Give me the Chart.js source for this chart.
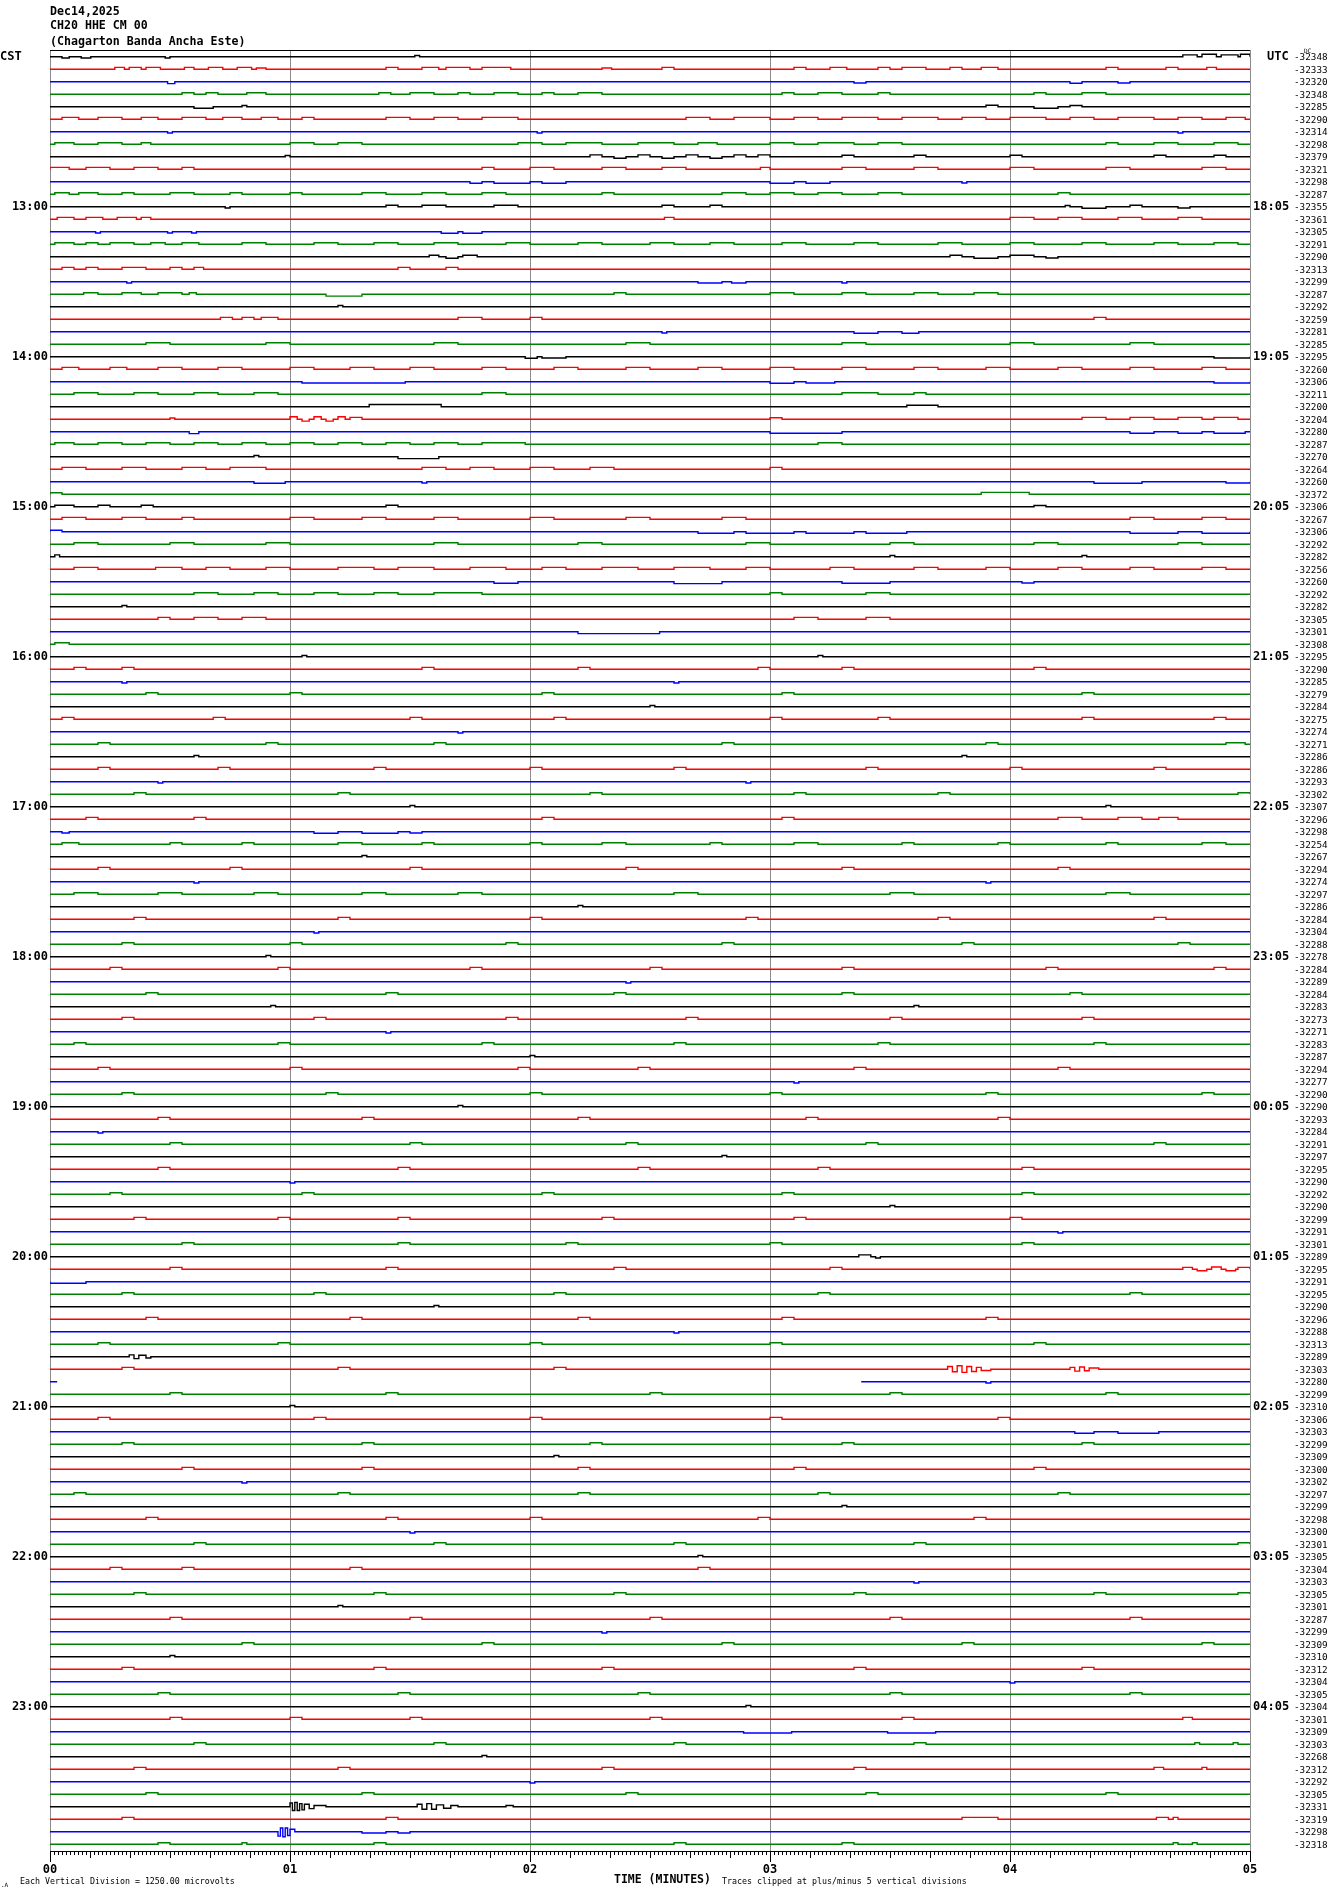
<!DOCTYPE html>
<html>
<head>
<meta charset="utf-8">
<title>CH20 HHE CM 00 helicorder</title>
<script src="https://cdn.jsdelivr.net/npm/chart.js@4.4.1/dist/chart.umd.min.js"></script>
<style>
  html, body { margin: 0; padding: 0; background: #fff; }
  canvas { display: block; }
</style>
</head>
<body>
<canvas id="heli" width="1330" height="1894" style="width:1330px;height:1894px"></canvas>
<script>
// header text
const stationDate = 'Dec14,2025';
const stationCode = 'CH20 HHE CM 00';
const stationName = '(Chagarton Banda Ancha Este)';

// hour marks, one every 12 traces (5 min per trace)
const cstLabels = ['13:00','14:00','15:00','16:00','17:00','18:00','19:00','20:00','21:00','22:00','23:00'];
const utcLabels = ['18:05','19:05','20:05','21:05','22:05','23:05','00:05','01:05','02:05','03:05','04:05'];
const minuteLabels = ['00','01','02','03','04','05'];

// DC offset printed at the end of every trace
const dcOffsets = [
  -32348,-32333,-32320,-32348,-32285,-32290,-32314,-32298,-32379,-32321,-32298,-32287,
  -32355,-32361,-32305,-32291,-32290,-32313,-32299,-32287,-32292,-32259,-32281,-32285,
  -32295,-32260,-32306,-32211,-32200,-32204,-32280,-32287,-32270,-32264,-32260,-32372,
  -32306,-32267,-32306,-32292,-32282,-32256,-32260,-32292,-32282,-32305,-32301,-32308,
  -32295,-32290,-32285,-32279,-32284,-32275,-32274,-32271,-32286,-32286,-32293,-32302,
  -32307,-32296,-32298,-32254,-32267,-32294,-32274,-32297,-32286,-32284,-32304,-32288,
  -32278,-32284,-32289,-32284,-32283,-32273,-32271,-32283,-32287,-32294,-32277,-32290,
  -32290,-32293,-32284,-32291,-32297,-32295,-32290,-32292,-32290,-32299,-32291,-32301,
  -32289,-32295,-32291,-32295,-32290,-32296,-32288,-32313,-32289,-32303,-32280,-32299,
  -32310,-32306,-32303,-32299,-32309,-32300,-32302,-32297,-32299,-32298,-32300,-32301,
  -32305,-32304,-32303,-32305,-32301,-32287,-32299,-32309,-32310,-32312,-32304,-32305,
  -32304,-32301,-32309,-32303,-32268,-32312,-32292,-32305,-32331,-32319,-32298,-32318
];

const traceColors = ['#000000', '#ff0000', '#0000ff', '#008000'];

// per trace: [start minute, end minute, amplitude in vertical divisions]
const traceEvents = [
  [[0.05,0.08,-0.1],[0.13,0.17,-0.1],[0.48,0.5,-0.1],[1.52,1.54,0.1],[4.72,4.78,0.15],[4.8,4.86,0.2],[4.88,4.95,0.15],[4.96,5.0,0.2]],
  [[0.27,0.31,.15],[0.33,0.38,.15],[0.4,0.46,.15],[0.56,0.6,.15],[0.66,0.72,.15],[0.78,0.84,.15],[0.86,0.9,.1],[1.4,1.45,.15],[1.55,1.62,.15],[1.65,1.75,.15],[1.8,1.92,.15],[2.3,2.34,.1],[2.55,2.6,.15],[3.1,3.15,.15],[3.25,3.32,.15],[3.45,3.5,.15],[3.55,3.65,.15],[3.75,3.8,.15],[3.88,3.95,.15],[4.4,4.45,.15],[4.65,4.7,.15],[4.82,4.86,.15]],
  [[0.49,0.52,-0.15],[3.35,3.4,-0.1],[4.25,4.3,-0.12],[4.45,4.5,-0.1]],
  [[0.55,0.6,.12],[0.65,0.7,.12],[0.82,0.9,.12],[1.37,1.42,.12],[1.5,1.6,.12],[1.7,1.75,.12],[1.85,1.95,.12],[2.05,2.1,.12],[2.2,2.3,.12],[3.05,3.1,.12],[3.2,3.3,.12],[3.45,3.5,.12],[4.1,4.15,.12],[4.3,4.4,.12]],
  [[0.6,0.68,-0.12],[0.8,0.82,.1],[3.9,3.95,.12],[4.1,4.2,-0.12],[4.25,4.3,.1]],
  [[0.05,0.12,.15],[0.2,0.3,.15],[0.38,0.45,.15],[0.55,0.65,.15],[0.72,0.8,.15],[0.88,0.95,.15],[1.05,1.1,.15],[1.4,1.5,.15],[1.6,1.7,.15],[1.8,1.95,.15],[2.65,2.75,.15],[2.85,3.0,.15],[3.1,3.2,.15],[3.3,3.45,.15],[3.55,3.7,.15],[3.8,3.9,.15],[4.0,4.15,.15],[4.25,4.35,.15],[4.45,4.6,.15],[4.7,4.8,.15],[4.9,4.98,.15]],
  [[0.49,0.51,-0.1],[2.03,2.05,-0.1],[4.7,4.72,-0.1]],
  [[0.02,0.1,.12],[0.2,0.3,.12],[0.38,0.42,.12],[1.0,1.1,.12],[1.2,1.3,.12],[1.95,2.05,.12],[2.15,2.3,.12],[2.45,2.6,.12],[2.7,2.78,.12],[3.0,3.1,.12],[3.2,3.35,.12],[3.45,3.55,.12],[4.4,4.45,.12],[4.6,4.7,.12],[4.85,4.95,.12]],
  [[0.98,1.0,.1],[2.25,2.3,.15],[2.35,2.4,-0.12],[2.45,2.5,.15],[2.55,2.6,-0.12],[2.65,2.7,.15],[2.75,2.8,-0.12],[2.85,2.9,.15],[2.95,3.0,.15],[3.3,3.35,.12],[3.6,3.65,.12],[4.0,4.05,.12],[4.6,4.65,.12],[4.85,4.9,.12]],
  [[0.0,0.08,.15],[0.15,0.25,.15],[0.35,0.45,.15],[0.55,0.6,.15],[1.8,1.85,.15],[2.0,2.1,.15],[2.3,2.4,.15],[2.55,2.65,.15],[2.96,3.0,.15],[3.3,3.4,.15],[3.6,3.7,.15],[4.0,4.1,.15],[4.4,4.5,.15],[4.8,4.9,.15]],
  [[1.75,1.8,-0.12],[1.85,2.0,-0.12],[2.05,2.15,-0.12],[3.0,3.1,-0.12],[3.15,3.25,-0.12],[3.8,3.82,-0.1]],
  [[0.02,0.08,.12],[0.12,0.2,.12],[0.3,0.35,.12],[0.5,0.6,.12],[0.75,0.8,.12],[1.0,1.05,.12],[1.3,1.4,.12],[1.55,1.65,.12],[1.8,1.9,.12],[2.3,2.35,.12],[2.8,2.9,.12],[3.0,3.1,.12],[3.2,3.3,.12],[3.45,3.55,.12],[4.2,4.25,.12]],
  // 13:00
  [[0.73,0.75,-0.1],[1.4,1.45,.12],[1.55,1.65,.12],[1.85,1.95,.12],[2.55,2.6,.12],[2.75,2.8,.12],[4.23,4.25,.1],[4.3,4.4,-0.12],[4.5,4.55,.12],[4.7,4.75,-0.1]],
  [[0.03,0.1,.15],[0.15,0.22,.15],[0.28,0.36,.15],[0.38,0.42,.15],[2.56,2.6,.15],[4.0,4.1,.15],[4.2,4.3,.15],[4.45,4.55,.15],[4.7,4.8,.15]],
  [[0.19,0.21,-0.1],[0.49,0.51,-0.1],[0.59,0.61,-0.1],[1.63,1.7,-0.12],[1.72,1.8,-0.12]],
  [[0.02,0.1,.12],[0.15,0.2,.12],[0.25,0.35,.12],[0.42,0.48,.12],[0.55,0.62,.12],[0.8,0.9,.12],[1.1,1.2,.12],[1.35,1.45,.12],[1.6,1.7,.12],[1.9,2.0,.12],[2.2,2.3,.12],[2.5,2.6,.12],[2.75,2.85,.12],[3.05,3.15,.12],[3.35,3.45,.12],[3.7,3.8,.12],[4.0,4.1,.12],[4.3,4.4,.12],[4.6,4.7,.12],[4.85,4.95,.12]],
  [[1.58,1.62,.12],[1.65,1.7,-0.12],[1.72,1.78,.12],[3.75,3.8,.12],[3.85,3.95,-0.12],[4.0,4.1,.12],[4.15,4.2,-0.1]],
  [[0.05,0.1,.15],[0.15,0.2,.15],[0.3,0.4,.15],[0.5,0.55,.15],[0.6,0.64,.15],[1.45,1.5,.15],[1.65,1.7,.15]],
  [[0.32,0.34,-0.1],[2.7,2.8,-0.1],[2.84,2.9,-0.1],[3.3,3.32,-0.1]],
  [[0.14,0.2,.12],[0.3,0.38,.12],[0.45,0.55,.12],[0.58,0.61,.12],[1.15,1.3,-0.15],[2.35,2.4,.12],[3.0,3.1,.12],[3.3,3.4,.12],[3.6,3.7,.12],[3.85,3.95,.12]],
  [[1.2,1.22,.1]],
  [[0.71,0.76,.15],[0.8,0.85,.15],[0.88,0.95,.15],[1.7,1.8,.15],[2.0,2.05,.15],[4.35,4.4,.15]],
  [[2.55,2.57,-0.1],[3.35,3.45,-0.12],[3.55,3.62,-0.12]],
  [[0.4,0.5,.12],[0.9,1.0,.12],[1.6,1.7,.12],[2.4,2.5,.12],[3.3,3.4,.12],[4.0,4.1,.12],[4.5,4.6,.12]],
  // 14:00
  [[1.98,2.03,-0.12],[2.05,2.15,-0.1],[4.85,5.0,-0.1]],
  [[0.05,0.12,.15],[0.25,0.32,.15],[0.45,0.55,.15],[0.7,0.8,.15],[1.0,1.1,.15],[1.25,1.35,.15],[1.5,1.6,.15],[1.8,1.9,.15],[2.1,2.2,.15],[2.4,2.5,.15],[2.7,2.8,.15],[3.0,3.1,.15],[3.3,3.4,.15],[3.6,3.7,.15],[3.9,4.0,.15],[4.2,4.3,.15],[4.5,4.6,.15],[4.8,4.9,.15]],
  [[1.05,1.48,-0.1],[3.0,3.1,-0.12],[3.15,3.27,-0.1],[4.85,5.0,-0.1]],
  [[0.1,0.2,.12],[0.35,0.45,.12],[0.6,0.7,.12],[0.85,0.95,.12],[1.8,1.9,.12],[3.3,3.45,.12],[3.6,3.65,.12]],
  [[1.33,1.63,0.18],[3.57,3.7,0.12]],
  [[0.5,0.52,.1],[1.0,1.03,.2],[1.05,1.08,-0.15],[1.1,1.13,.2],[1.15,1.18,-0.15],[1.2,1.23,.2],[1.25,1.3,.15],[3.0,3.05,.12],[4.3,4.4,.15],[4.5,4.6,.15],[4.7,4.8,.15],[4.85,4.95,.15]],
  [[0.58,0.62,-0.15],[3.0,3.3,-0.12],[4.5,4.6,-0.12],[4.7,4.8,-0.12],[4.85,4.98,-0.12]],
  [[0.02,0.1,.12],[0.2,0.3,.12],[0.4,0.5,.12],[0.6,0.7,.12],[0.8,0.9,.12],[1.0,1.1,.12],[1.2,1.3,.12],[1.4,1.5,.12],[1.6,1.7,.12],[1.8,1.98,.12],[3.2,3.3,.12]],
  [[0.85,0.87,.1],[1.45,1.62,-0.15]],
  [[0.05,0.15,.15],[0.3,0.4,.15],[0.55,0.65,.15],[0.75,0.9,.15],[1.55,1.65,.15],[1.75,1.85,.15],[2.0,2.1,.15],[2.25,2.35,.15],[3.0,3.05,.15]],
  [[0.85,0.98,-0.12],[1.55,1.57,-0.1],[4.35,4.55,-0.12],[4.9,5.0,-0.1]],
  [[0.0,0.05,.12],[3.88,4.08,.15]],
  // 15:00
  [[0.02,0.1,.12],[0.2,0.25,.12],[0.38,0.43,.12],[1.4,1.45,.12],[4.1,4.15,.1]],
  [[0.05,0.15,.15],[0.3,0.4,.15],[0.55,0.6,.15],[1.0,1.1,.15],[1.3,1.4,.15],[1.6,1.7,.15],[2.0,2.1,.15],[2.4,2.5,.15],[2.8,2.9,.15],[4.5,4.6,.15],[4.8,4.9,.15]],
  [[0.0,0.05,.12],[2.7,2.85,-0.12],[2.9,3.1,-0.12],[3.15,3.35,-0.12],[3.4,3.57,-0.12],[4.5,4.7,-0.12],[4.8,5.0,-0.12]],
  [[0.1,0.2,.12],[0.5,0.6,.12],[0.9,1.0,.12],[1.6,1.7,.12],[2.2,2.3,.12],[2.9,3.0,.12],[3.5,3.6,.12],[4.1,4.2,.12],[4.7,4.8,.12]],
  [[0.02,0.04,.15],[3.5,3.52,.1],[4.3,4.32,.1]],
  [[0.1,0.2,.15],[0.44,0.55,.15],[0.65,0.75,.15],[0.9,1.0,.15],[1.2,1.35,.15],[1.45,1.6,.15],[1.75,1.9,.15],[2.05,2.15,.15],[2.3,2.45,.15],[2.6,2.75,.15],[2.9,3.0,.15],[3.25,3.35,.15],[3.6,3.7,.15],[3.9,4.0,.15],[4.2,4.3,.15],[4.5,4.6,.15],[4.8,4.9,.15]],
  [[1.85,1.95,-0.12],[2.6,2.8,-0.15],[3.3,3.5,-0.12],[4.05,4.1,-0.1]],
  [[0.6,0.7,.12],[0.85,0.95,.12],[1.1,1.2,.12],[1.35,1.45,.12],[1.6,1.8,.12],[3.0,3.05,.12],[3.4,3.5,.12]],
  [[0.3,0.32,.1]],
  [[0.45,0.5,.15],[0.6,0.7,.15],[0.8,0.9,.15],[3.1,3.2,.15],[3.4,3.5,.15]],
  [[2.2,2.54,-0.15]],
  [[0.02,0.08,.12]],
  // 16:00
  [[1.05,1.07,.1],[3.2,3.22,.1]],
  [[0.1,0.15,.15],[0.3,0.35,.15],[1.55,1.6,.15],[2.2,2.25,.15],[2.95,3.0,.15],[3.3,3.35,.15],[4.1,4.15,.15]],
  [[0.3,0.32,-0.1],[2.6,2.62,-0.1]],
  [[0.4,0.45,.12],[1.0,1.05,.12],[2.05,2.1,.12],[3.05,3.1,.12],[4.3,4.35,.12]],
  [[2.5,2.52,.1]],
  [[0.05,0.1,.15],[0.68,0.73,.15],[1.5,1.55,.15],[2.1,2.15,.15],[3.0,3.05,.15],[3.45,3.5,.15],[4.3,4.35,.15],[4.85,4.9,.15]],
  [[1.7,1.72,-0.1]],
  [[0.2,0.25,.12],[0.9,0.95,.12],[1.6,1.65,.12],[2.8,2.85,.12],[3.9,3.95,.12],[4.9,4.98,.12]],
  [[0.6,0.62,.1],[3.8,3.82,.1]],
  [[0.2,0.25,.15],[0.7,0.75,.15],[1.35,1.4,.15],[2.0,2.05,.15],[2.6,2.65,.15],[3.4,3.45,.15],[4.0,4.05,.15],[4.6,4.65,.15]],
  [[0.45,0.47,-0.1],[2.9,2.92,-0.1]],
  [[0.35,0.4,.12],[1.2,1.25,.12],[2.25,2.3,.12],[3.1,3.15,.12],[3.7,3.75,.12],[4.95,5.0,.12]],
  // 17:00
  [[1.5,1.52,.1],[4.4,4.42,.1]],
  [[0.15,0.2,.15],[0.6,0.65,.15],[2.05,2.1,.15],[3.05,3.1,.15],[4.2,4.3,.15],[4.45,4.55,.15],[4.62,4.7,.15]],
  [[0.05,0.08,-0.1],[1.1,1.2,-0.12],[1.3,1.45,-0.12],[1.5,1.55,-0.1]],
  [[0.05,0.12,.12],[0.5,0.55,.12],[0.8,0.85,.12],[1.2,1.3,.12],[1.55,1.6,.12],[2.0,2.05,.12],[2.3,2.4,.12],[2.75,2.8,.12],[3.1,3.2,.12],[3.55,3.6,.12],[3.95,4.0,.12],[4.4,4.45,.12],[4.8,4.9,.12]],
  [[1.3,1.32,.1]],
  [[0.2,0.25,.15],[0.75,0.8,.15],[1.5,1.55,.15],[2.4,2.45,.15],[3.3,3.35,.15],[4.2,4.25,.15]],
  [[0.6,0.62,-0.1],[3.9,3.92,-0.1]],
  [[0.1,0.2,.12],[0.45,0.55,.12],[0.85,0.95,.12],[1.3,1.4,.12],[1.7,1.8,.12],[2.6,2.7,.12],[3.5,3.6,.12],[4.4,4.5,.12]],
  [[2.2,2.22,.1]],
  [[0.35,0.4,.15],[1.2,1.25,.15],[2.0,2.05,.15],[2.9,2.95,.15],[3.7,3.75,.15],[4.6,4.65,.15]],
  [[1.1,1.12,-0.1]],
  [[0.3,0.35,.12],[1.0,1.05,.12],[1.9,1.95,.12],[2.8,2.85,.12],[3.8,3.85,.12],[4.7,4.75,.12]],
  // 18:00
  [[0.9,0.92,.1]],
  [[0.25,0.3,.15],[0.95,1.0,.15],[1.75,1.8,.15],[2.5,2.55,.15],[3.3,3.35,.15],[4.15,4.2,.15],[4.85,4.9,.15]],
  [[2.4,2.42,-0.1]],
  [[0.4,0.45,.12],[1.4,1.45,.12],[2.35,2.4,.12],[3.3,3.35,.12],[4.25,4.3,.12]],
  [[0.92,0.94,.1],[3.6,3.62,.1]],
  [[0.3,0.35,.15],[1.1,1.15,.15],[1.9,1.95,.15],[2.65,2.7,.15],[3.5,3.55,.15],[4.3,4.35,.15]],
  [[1.4,1.42,-0.1]],
  [[0.1,0.15,.12],[0.95,1.0,.12],[1.8,1.85,.12],[2.6,2.65,.12],[3.45,3.5,.12],[4.35,4.4,.12]],
  [[2.0,2.02,.1]],
  [[0.2,0.25,.15],[1.0,1.05,.15],[1.95,2.0,.15],[2.45,2.5,.15],[3.35,3.4,.15],[4.2,4.25,.15]],
  [[3.1,3.12,-0.1]],
  [[0.3,0.35,.12],[1.15,1.2,.12],[2.0,2.05,.12],[3.0,3.05,.12],[3.9,3.95,.12],[4.8,4.85,.12]],
  // 19:00
  [[1.7,1.72,.1]],
  [[0.45,0.5,.15],[1.3,1.35,.15],[2.2,2.25,.15],[3.15,3.2,.15],[3.95,4.0,.15]],
  [[0.2,0.22,-0.1]],
  [[0.5,0.55,.12],[1.5,1.55,.12],[2.4,2.45,.12],[3.4,3.45,.12],[4.6,4.65,.12]],
  [[2.8,2.82,.1]],
  [[0.45,0.5,.15],[1.45,1.5,.15],[2.45,2.5,.15],[3.2,3.25,.15],[4.05,4.1,.15]],
  [[1.0,1.02,-0.1]],
  [[0.25,0.3,.12],[1.05,1.1,.12],[2.05,2.1,.12],[3.05,3.1,.12],[4.05,4.1,.12]],
  [[3.5,3.52,.1]],
  [[0.35,0.4,.15],[0.95,1.0,.15],[1.45,1.5,.15],[2.3,2.35,.15],[3.1,3.15,.15],[4.0,4.05,.15]],
  [[4.2,4.22,-0.1]],
  [[0.55,0.6,.12],[1.45,1.5,.12],[2.15,2.2,.12],[3.0,3.05,.12],[4.05,4.1,.12]],
  // 20:00
  [[3.37,3.42,.15],[3.44,3.46,-0.1]],
  [[0.5,0.55,.15],[1.4,1.45,.15],[2.35,2.4,.15],[3.25,3.3,.15],[4.72,4.76,.15],[4.78,4.82,-0.12],[4.84,4.88,.18],[4.9,4.94,-0.12],[4.95,5.0,.15]],
  [[0.0,0.15,-0.12]],
  [[0.3,0.35,.12],[1.1,1.15,.12],[2.1,2.15,.12],[3.2,3.25,.12],[4.5,4.55,.12]],
  [[1.6,1.62,.1]],
  [[0.4,0.45,.15],[1.25,1.3,.15],[2.2,2.25,.15],[3.05,3.1,.15],[3.9,3.95,.15]],
  [[2.6,2.62,-0.1]],
  [[0.2,0.25,.12],[0.95,1.0,.12],[2.0,2.05,.12],[3.0,3.05,.12],[4.1,4.15,.12]],
  [[0.33,0.35,.15],[0.35,0.37,-0.15],[0.37,0.4,.12],[0.4,0.42,-0.1]],
  [[0.3,0.35,.15],[1.2,1.25,.15],[2.1,2.15,.15],[3.74,3.76,.22],[3.76,3.78,-0.2],[3.78,3.8,.28],[3.8,3.82,-0.25],[3.82,3.84,.22],[3.84,3.86,-0.18],[3.86,3.88,.15],[3.88,3.92,-0.1],[4.25,4.27,.15],[4.27,4.29,-0.15],[4.29,4.31,.18],[4.31,4.33,-0.12],[4.33,4.37,.1]],
  [[3.9,3.92,-0.1]],
  [[0.5,0.55,.12],[1.4,1.45,.12],[2.5,2.55,.12],[3.5,3.55,.12],[4.4,4.45,.12]],
  // 21:00
  [[1.0,1.02,.1]],
  [[0.2,0.25,.15],[1.1,1.15,.15],[2.0,2.05,.15],[3.0,3.05,.15],[3.95,4.0,.15]],
  [[4.27,4.35,-0.12],[4.45,4.62,-0.12]],
  [[0.3,0.35,.12],[1.3,1.35,.12],[2.25,2.3,.12],[3.3,3.35,.12],[4.3,4.35,.12]],
  [[2.1,2.12,.1]],
  [[0.55,0.6,.15],[1.3,1.35,.15],[2.2,2.25,.15],[3.1,3.15,.15],[4.1,4.15,.15]],
  [[0.8,0.82,-0.1]],
  [[0.1,0.15,.12],[1.2,1.25,.12],[2.2,2.25,.12],[3.2,3.25,.12],[4.2,4.25,.12]],
  [[3.3,3.32,.1]],
  [[0.4,0.45,.15],[1.4,1.45,.15],[2.0,2.05,.15],[2.95,3.0,.15],[3.85,3.9,.15]],
  [[1.5,1.52,-0.1]],
  [[0.6,0.65,.12],[1.6,1.65,.12],[2.6,2.65,.12],[3.6,3.65,.12],[4.95,5.0,.12]],
  // 22:00
  [[2.7,2.72,.1]],
  [[0.25,0.3,.15],[0.55,0.6,.15],[1.25,1.3,.15],[2.7,2.75,.15]],
  [[3.6,3.62,-0.1]],
  [[0.35,0.4,.12],[1.35,1.4,.12],[2.35,2.4,.12],[3.35,3.4,.12],[4.35,4.4,.12],[4.95,5.0,.12]],
  [[1.2,1.22,.1]],
  [[0.5,0.55,.15],[1.5,1.55,.15],[2.5,2.55,.15],[3.5,3.55,.15],[4.5,4.55,.15]],
  [[2.3,2.32,-0.1]],
  [[0.8,0.85,.12],[1.8,1.85,.12],[2.8,2.85,.12],[3.8,3.85,.12],[4.8,4.85,.12]],
  [[0.5,0.52,.1]],
  [[0.3,0.35,.15],[1.35,1.4,.15],[2.3,2.35,.15],[3.35,3.4,.15],[4.3,4.35,.15]],
  [[4.0,4.02,-0.1]],
  [[0.45,0.5,.12],[1.45,1.5,.12],[2.45,2.5,.12],[3.5,3.55,.12],[4.5,4.55,.12]],
  // 23:00
  [[2.9,2.92,.1]],
  [[0.5,0.55,.15],[1.0,1.05,.15],[1.5,1.55,.15],[2.5,2.55,.15],[3.55,3.6,.15],[4.72,4.76,.15]],
  [[2.89,3.09,-0.1],[3.49,3.69,-0.1]],
  [[0.6,0.65,.12],[1.6,1.65,.12],[2.6,2.65,.12],[3.6,3.65,.12],[4.77,4.79,.12],[4.93,4.95,.12]],
  [[1.8,1.82,.1]],
  [[0.35,0.4,.15],[1.2,1.25,.15],[2.3,2.35,.15],[3.35,3.4,.15],[4.6,4.64,.15],[4.8,4.82,.15]],
  [[2.0,2.02,-0.1]],
  [[0.4,0.45,.12],[1.3,1.35,.12],[2.4,2.45,.12],[3.4,3.45,.12],[4.4,4.45,.12]],
  [[1.0,1.01,.3],[1.01,1.02,-0.3],[1.02,1.03,.35],[1.03,1.04,-0.3],[1.04,1.05,.25],[1.05,1.06,-0.25],[1.06,1.08,.2],[1.08,1.1,-0.15],[1.1,1.15,.1],[1.53,1.55,.2],[1.55,1.57,-0.2],[1.57,1.59,.25],[1.59,1.61,-0.2],[1.61,1.64,.15],[1.64,1.67,-0.12],[1.67,1.7,.1],[1.9,1.93,.1]],
  [[0.3,0.35,.15],[1.4,1.45,.15],[3.8,3.95,.15],[4.61,4.66,.15],[4.68,4.7,.15]],
  [[0.95,0.96,-0.35],[0.96,0.97,.3],[0.97,0.98,-0.4],[0.98,0.99,.3],[0.99,1.0,-0.3],[1.0,1.02,.2],[1.3,1.4,-0.1],[1.45,1.5,-0.1]],
  [[0.45,0.5,.12],[0.8,0.82,.12],[1.35,1.4,.12],[2.6,2.65,.12],[3.3,3.35,.12],[4.68,4.7,.12],[4.76,4.78,.12]]
];

// missing data: [trace, from minute, to minute]
const dataGaps = [[106, 0.03, 3.38]];

// one line per 5-minute trace, trace i sits at y = i
function buildTrace(i) {
  const pts = [{ x: 0, y: i }];
  const gap = dataGaps.find(g => g[0] === i);
  if (gap) {
    pts.push({ x: gap[1], y: i }, { x: gap[1] + 0.001, y: null }, { x: gap[2], y: i });
  }
  (traceEvents[i] || []).forEach(([s, e, a]) => {
    if (gap && s > gap[1] && e < gap[2]) return;
    pts.push({ x: s, y: i }, { x: s, y: i - a }, { x: e, y: i - a }, { x: e, y: i });
  });
  pts.push({ x: 5, y: i });
  pts.sort((p, q) => p.x - q.x);
  return pts;
}

const datasets = dcOffsets.map((_, i) => ({
  data: buildTrace(i),
  borderColor: traceColors[i % 4],
  borderWidth: 1.4,
  pointRadius: 0,
  tension: 0,
  spanGaps: false,
  fill: false
}));

const MONO = '"DejaVu Sans Mono", "Liberation Mono", monospace';

const heliText = {
  id: 'heliText',
  afterDraw(chart) {
    const { ctx, chartArea, scales } = chart;
    const x = scales.x, y = scales.y;
    ctx.save();

    // top border
    ctx.strokeStyle = '#000';
    ctx.lineWidth = 1;
    ctx.beginPath();
    ctx.moveTo(chartArea.left, chartArea.top + 0.5);
    ctx.lineTo(chartArea.right, chartArea.top + 0.5);
    ctx.stroke();

    // second ticks along the time axis
    ctx.beginPath();
    for (let s = 1; s < 300; s++) {
      if (s % 60 === 0) continue;
      const px = Math.round(x.getPixelForValue(s / 60)) + 0.5;
      const len = s % 10 === 0 ? 7 : 4;
      ctx.moveTo(px, chartArea.bottom);
      ctx.lineTo(px, chartArea.bottom + len);
    }
    ctx.stroke();

    ctx.fillStyle = '#000';
    ctx.textBaseline = 'middle';

    // header
    ctx.font = 'bold 11.6px ' + MONO;
    ctx.textAlign = 'left';
    ctx.fillText(stationDate, 50, 12);
    ctx.fillText(stationCode, 50, 26);
    ctx.fillText(stationName, 50, 42);

    // time zone labels
    ctx.font = 'bold 12px ' + MONO;
    ctx.fillText('CST', 0, y.getPixelForValue(0));
    ctx.fillText('UTC', 1267, y.getPixelForValue(0));

    // hour labels
    cstLabels.forEach((lab, k) => {
      const py = y.getPixelForValue((k + 1) * 12);
      ctx.textAlign = 'right';
      ctx.fillText(lab, 48, py);
      ctx.textAlign = 'left';
      ctx.fillText(utcLabels[k], 1253, py);
    });

    // DC offsets
    ctx.font = '9.3px ' + MONO;
    ctx.textAlign = 'left';
    dcOffsets.forEach((v, i) => {
      ctx.fillText(String(v), 1294, y.getPixelForValue(i) + 1);
    });
    ctx.font = '6px ' + MONO;
    ctx.fillText('DC', 1304, 51);

    // footer
    ctx.font = 'bold 11.5px ' + MONO;
    ctx.fillText('TIME (MINUTES)', 614, 1880);
    ctx.font = '8.3px ' + MONO;
    ctx.fillText('Each Vertical Division = 1250.00 microvolts', 20, 1882);
    ctx.fillText('Traces clipped at plus/minus 5 vertical divisions', 722, 1882);
    ctx.font = '6px ' + MONO;
    ctx.fillText('.A', 1, 1885);

    ctx.restore();
  }
};

new Chart(document.getElementById('heli'), {
  type: 'line',
  data: { datasets },
  plugins: [heliText],
  options: {
    responsive: false,
    animation: false,
    devicePixelRatio: 1,
    events: [],
    layout: { padding: { left: 50, right: 80, top: 50, bottom: 0 } },
    plugins: { legend: { display: false }, tooltip: { enabled: false } },
    scales: {
      x: {
        type: 'linear',
        min: 0,
        max: 5,
        afterFit(scale) { scale.height = 43; },
        ticks: {
          stepSize: 1,
          autoSkip: false,
          maxRotation: 0,
          padding: 1,
          color: '#000',
          font: { family: MONO, weight: 'bold', size: 12 },
          callback: v => minuteLabels[v]
        },
        grid: { color: '#8c8c8c', lineWidth: 1, tickLength: 11, tickColor: '#000', tickWidth: 1 },
        border: { display: true, color: '#000', width: 1 }
      },
      y: {
        type: 'linear',
        display: false,
        reverse: true,
        min: -0.536,
        max: 143.54
      }
    }
  }
});
</script>
</body>
</html>
